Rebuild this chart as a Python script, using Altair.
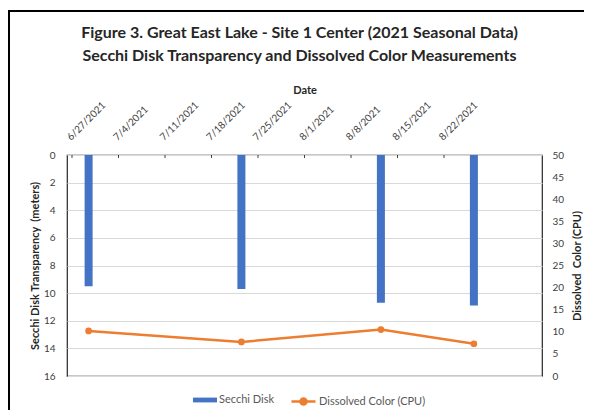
import altair as alt
import pandas as pd

# ---- data ----
sample_dates = ["2021-06-29", "2021-07-22", "2021-08-12", "2021-08-26"]
secchi_depth = [9.5, 9.7, 10.7, 10.9]
dissolved_color = [10.2, 7.7, 10.5, 7.3]
tick_labels = ["6/27/2021", "7/4/2021", "7/11/2021", "7/18/2021", "7/25/2021",
               "8/1/2021", "8/8/2021", "8/15/2021", "8/22/2021"]
series_names = ["Secchi Disk", "Dissolved Color (CPU)"]
series_colors = ["#4472C4", "#ED7D31"]
axis_start = "2021-06-27"

start = pd.Timestamp(axis_start)
day = [(pd.Timestamp(d) - start).days + 0.5 for d in sample_dates]
tick_vals = [7 * i for i in range(len(tick_labels))]
domain_end = 7 * (len(tick_labels) + 1)

df_bar = pd.DataFrame({"day": day, "value": secchi_depth, "series": series_names[0]})
df_line = pd.DataFrame({"day": day, "value": dissolved_color, "series": series_names[1]})
df_ticks = pd.DataFrame({"day": tick_vals})

FONT = "Lato"
NB = "\u00a0"
label_arr = "[" + ",".join('"%s"' % t for t in tick_labels) + "]"

legend_common = dict(
    orient="none", title=None, direction="horizontal",
    labelFont=FONT, labelFontSize=11, labelColor="#595959",
    symbolSize=576, labelOffset=2, padding=0,
)
bar_legend = alt.Legend(symbolType="M-1,-0.2H1V0.2H-1Z", symbolStrokeWidth=0,
                        symbolFillColor=series_colors[0], legendX=126, legendY=233,
                        **legend_common)
line_legend = alt.Legend(
    symbolType="M-1,0H1M0.25,0A0.25,0.25,0,1,1,-0.25,0A0.25,0.25,0,1,1,0.25,0",
    symbolStrokeWidth=2.5, symbolFillColor=series_colors[1],
    symbolStrokeColor=series_colors[1], legendX=223, legendY=233, **legend_common)

x_enc = alt.X(
    "day:Q",
    scale=alt.Scale(domain=[0, domain_end], nice=False, zero=False),
    axis=alt.Axis(
        orient="top", values=tick_vals, labelExpr=label_arr + "[round(datum.value/7)]",
        labelAngle=-45, labelAlign="left", labelBaseline="bottom", labelPadding=13,
        labelFont=FONT, labelFontSize=10, labelColor="#404040",
        title="Date", titleFont=FONT, titleFontSize=11, titleFontWeight="bold",
        titleColor="#262626", titlePadding=4,
        ticks=False, domain=False, grid=False, labelOverlap=False,
    ),
)

bars = alt.Chart(df_bar).mark_bar(size=8).encode(
    x=x_enc,
    y=alt.Y(
        "value:Q",
        scale=alt.Scale(domain=[0, 16], reverse=True, nice=False),
        axis=alt.Axis(
            values=list(range(0, 17, 2)),
            title="Secchi Disk Transparency " + NB + "(meters)",
            titleFont=FONT, titleFontSize=11, titleFontWeight="bold", titleColor="#262626",
            titlePadding=3, labelFont=FONT, labelFontSize=10, labelColor="#404040",
            labelPadding=12, grid=True, gridColor="#D9D9D9", ticks=False, domain=False,
        ),
    ),
    fill=alt.Fill("series:N", scale=alt.Scale(domain=series_names[:1], range=series_colors[:1]),
                  legend=bar_legend),
)

line = alt.Chart(df_line).mark_line(
    strokeWidth=2.5, point=alt.OverlayMarkDef(size=45, filled=True, opacity=1)
).encode(
    x="day:Q",
    y=alt.Y(
        "value:Q",
        scale=alt.Scale(domain=[0, 50], nice=False),
        axis=alt.Axis(
            orient="right", values=list(range(0, 51, 5)),
            title="Dissolved " + NB + "Color (CPU)", titleAngle=270, titleBaseline="top",
            titleFont=FONT, titleFontSize=11, titleFontWeight="bold", titleColor="#262626",
            titlePadding=8, labelFont=FONT, labelFontSize=10, labelColor="#404040",
            labelPadding=10, grid=False, ticks=False, domain=False,
        ),
    ),
    color=alt.Color("series:N", scale=alt.Scale(domain=series_names[1:], range=series_colors[1:]),
                    legend=line_legend),
)

ticks = alt.Chart(df_ticks).mark_rule(color="#404040", strokeWidth=1).encode(
    x="day:Q", y=alt.value(0), y2=alt.value(3)
)

frame_left = alt.Chart(df_ticks).mark_rule(color="#000000", strokeWidth=2).encode(
    x=alt.value(-58), y=alt.value(-144), y2=alt.value(280)
)
frame_top = alt.Chart(df_ticks).mark_rule(color="#000000", strokeWidth=2).encode(
    x=alt.value(-59), x2=alt.value(520), y=alt.value(-144)
)

chart = alt.layer(bars, line, ticks, frame_left, frame_top).resolve_scale(
    y="independent"
).properties(
    width=475, height=221,
    autosize=alt.AutoSizeParams(type="none"),
    padding={"left": 59, "top": 147, "right": 42, "bottom": 34},
    title=alt.TitleParams(
        text=["Figure 3. Great East Lake - Site 1 Center (2021 Seasonal Data)",
              "Secchi Disk Transparency and Dissolved Color Measurements"],
        font=FONT, fontSize=16, fontWeight="bold", color="#262626",
        lineHeight=23, anchor="middle", frame="group", offset=-54, dx=-5,
    ),
).configure_view(stroke="#262626", strokeWidth=1.2)

chart.save("out.html", embed_options={"renderer": "svg", "actions": False})
